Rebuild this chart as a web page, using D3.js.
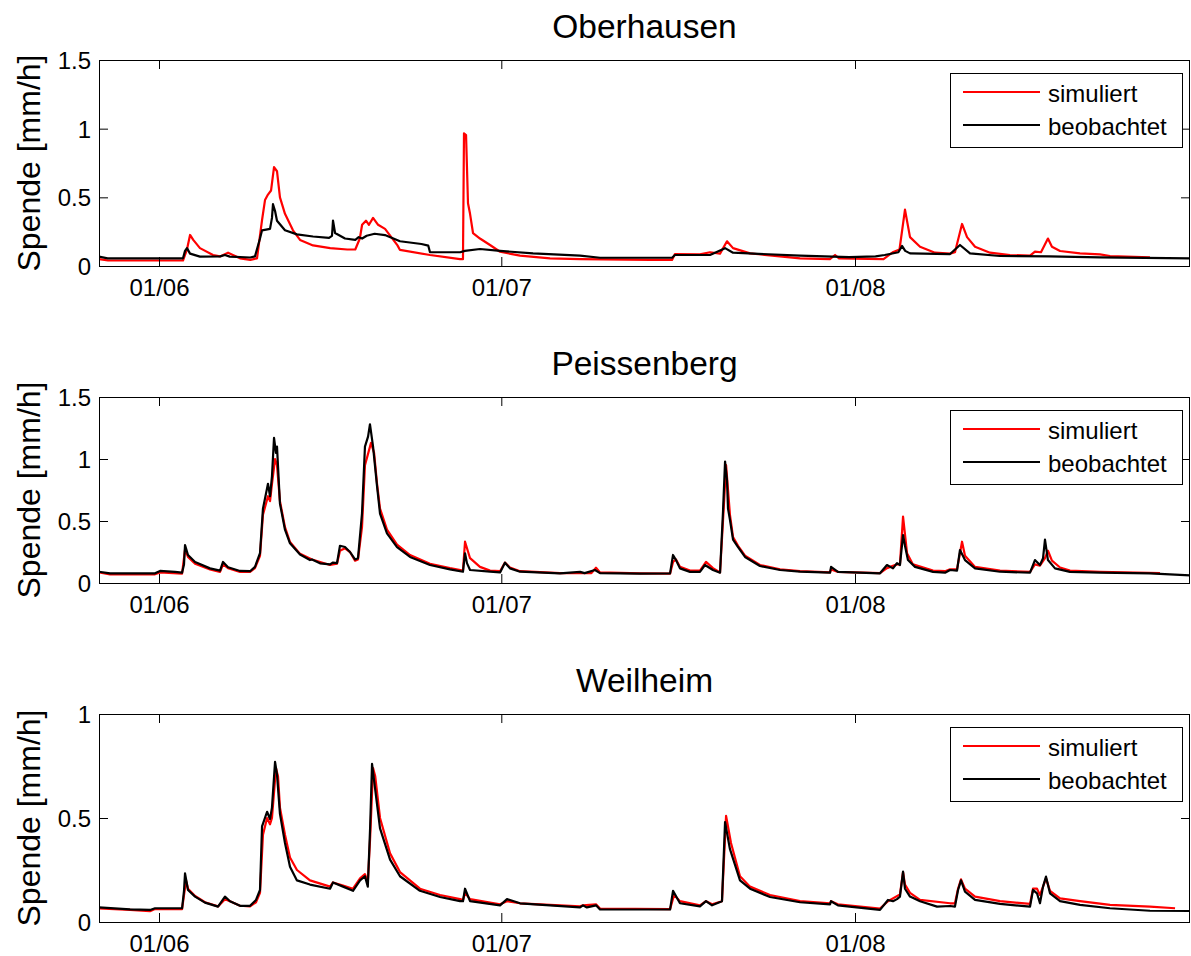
<!DOCTYPE html>
<html>
<head>
<meta charset="utf-8">
<script src="https://cdn.jsdelivr.net/npm/d3@7"></script>
<style>
  body { margin: 0; background: #fff; }
  svg { display: block; }
  text { font-family: "Liberation Sans", Arial, Helvetica, sans-serif; fill: #000; }
</style>
</head>
<body>
<svg id="chart" width="1191" height="956"></svg>
<script>
// Abflussspende [mm/h], Zeit in Tagen ab 01/06
const stations = ["Oberhausen", "Peissenberg", "Weilheim"];
const seriesNames = ["simuliert", "beobachtet"];
const yAxisTitle = "Spende [mm/h]";
const timeDomain = [-5.26, 90.36];
const monthTicks = [0, 30, 61];
const monthLabels = ["01/06", "01/07", "01/08"];
const yTicksOberhausen = [0, 0.5, 1, 1.5];
const yTicksPeissenberg = [0, 0.5, 1, 1.5];
const yTicksWeilheim = [0, 0.5, 1];

const simOberhausen = [[-5.26,0.05],[-4.47,0.04],[2.1,0.04],[2.45,0.12],[2.72,0.226],[3.0,0.19],[3.59,0.13],[4.73,0.08],[5.35,0.07],[6.05,0.097],[7.1,0.056],[8.0,0.045],[8.59,0.056],[9.03,0.335],[9.29,0.48],[9.55,0.52],[9.82,0.55],[10.08,0.72],[10.34,0.69],[10.6,0.5],[11.04,0.38],[11.74,0.26],[12.36,0.19],[13.5,0.15],[15.0,0.13],[16.5,0.12],[17.2,0.12],[17.6,0.2],[17.8,0.3],[18.14,0.33],[18.4,0.3],[18.76,0.35],[19.2,0.3],[19.81,0.27],[20.9,0.15],[21.12,0.117],[23.75,0.08],[26.38,0.05],[26.64,0.05],[26.73,0.966],[26.91,0.954],[27.08,0.457],[27.26,0.38],[27.52,0.24],[28.13,0.2],[29.01,0.153],[29.89,0.104],[31.64,0.075],[34.27,0.056],[36.9,0.05],[43.03,0.044],[44.96,0.044],[45.22,0.087],[47.41,0.085],[48.29,0.1],[49.17,0.09],[49.78,0.18],[50.31,0.13],[51.8,0.092],[56.18,0.056],[58.8,0.05],[59.25,0.08],[59.6,0.055],[63.5,0.05],[64.3,0.1],[64.9,0.12],[65.38,0.41],[65.82,0.21],[66.7,0.14],[68.01,0.097],[69.33,0.09],[69.76,0.1],[70.38,0.306],[70.82,0.21],[71.52,0.14],[72.83,0.097],[74.58,0.08],[76.34,0.075],[76.77,0.104],[77.3,0.1],[77.91,0.2],[78.26,0.14],[78.97,0.109],[80.72,0.092],[82.47,0.085],[83.35,0.073],[86.85,0.063]];
const obsOberhausen = [[-5.26,0.068],[-4.5,0.056],[2.1,0.056],[2.28,0.11],[2.45,0.13],[2.72,0.09],[3.59,0.068],[5.35,0.07],[5.78,0.08],[6.2,0.068],[8.0,0.062],[8.41,0.07],[8.85,0.2],[9.03,0.26],[9.73,0.27],[9.9,0.35],[9.99,0.45],[10.17,0.4],[10.34,0.33],[11.04,0.26],[12.09,0.23],[13.5,0.215],[14.9,0.205],[15.16,0.22],[15.25,0.33],[15.43,0.24],[16.3,0.2],[17.2,0.19],[17.5,0.21],[17.8,0.2],[18.2,0.22],[18.9,0.235],[19.8,0.225],[21.12,0.18],[23.0,0.16],[23.6,0.148],[23.75,0.1],[26.4,0.1],[26.8,0.11],[28.13,0.124],[29.89,0.11],[32.78,0.092],[36.9,0.075],[38.65,0.06],[44.96,0.06],[45.22,0.08],[48.29,0.08],[49.61,0.13],[50.31,0.097],[56.18,0.075],[60.5,0.065],[62.8,0.07],[63.6,0.08],[64.8,0.1],[65.12,0.146],[65.4,0.11],[65.82,0.092],[69.33,0.087],[70.2,0.153],[71.08,0.092],[73.71,0.073],[78.0,0.07],[82.47,0.063],[90.36,0.056]];

const simPeissenberg = [[-5.26,0.085],[-4.29,0.07],[-0.35,0.07],[0.09,0.085],[2.02,0.075],[2.28,0.27],[2.54,0.21],[3.16,0.155],[4.47,0.11],[5.35,0.09],[5.61,0.15],[6.05,0.12],[7.1,0.09],[7.98,0.09],[8.41,0.12],[8.85,0.22],[9.11,0.55],[9.55,0.7],[9.73,0.66],[9.9,0.8],[10.17,1.0],[10.34,0.95],[10.6,0.66],[11.04,0.45],[11.48,0.33],[12.36,0.235],[13.41,0.19],[14.99,0.145],[15.6,0.155],[15.86,0.26],[16.3,0.28],[16.74,0.25],[17.18,0.18],[17.44,0.19],[17.79,0.45],[18.05,0.95],[18.58,1.13],[18.85,1.05],[19.11,0.8],[19.37,0.6],[19.98,0.43],[20.86,0.31],[22.0,0.225],[23.75,0.155],[25.5,0.12],[26.64,0.1],[26.82,0.333],[27.26,0.2],[28.13,0.13],[29.01,0.1],[29.89,0.095],[30.32,0.165],[30.76,0.125],[31.64,0.095],[35.14,0.08],[37.9,0.08],[38.3,0.123],[38.65,0.085],[42.16,0.078],[44.79,0.075],[45.05,0.17],[45.31,0.19],[45.66,0.13],[46.54,0.1],[47.41,0.1],[47.94,0.17],[48.55,0.12],[49.17,0.085],[49.43,0.5],[49.7,0.95],[49.87,0.75],[50.04,0.55],[50.31,0.37],[50.75,0.3],[51.36,0.22],[52.67,0.145],[54.43,0.11],[56.18,0.095],[58.81,0.085],[58.9,0.11],[59.51,0.09],[63.19,0.08],[63.8,0.12],[64.68,0.15],[64.94,0.15],[65.21,0.535],[65.56,0.24],[66.08,0.15],[67.84,0.1],[68.89,0.095],[69.33,0.11],[69.94,0.11],[70.38,0.333],[70.64,0.22],[71.52,0.13],[73.71,0.1],[76.34,0.09],[76.77,0.15],[77.21,0.14],[77.65,0.2],[77.91,0.26],[78.26,0.18],[78.97,0.125],[79.84,0.1],[82.47,0.09],[87.73,0.08]];
const obsPeissenberg = [[-5.26,0.091],[-4.29,0.078],[-0.35,0.078],[0.09,0.097],[1.4,0.09],[2.02,0.083],[2.19,0.15],[2.28,0.306],[2.54,0.226],[3.16,0.17],[4.47,0.118],[5.35,0.1],[5.61,0.17],[6.05,0.127],[7.1,0.097],[7.98,0.095],[8.41,0.13],[8.85,0.24],[9.11,0.6],[9.55,0.8],[9.73,0.7],[9.9,0.86],[10.08,1.17],[10.25,1.05],[10.34,1.1],[10.6,0.64],[11.04,0.43],[11.48,0.32],[12.36,0.23],[13.23,0.185],[13.41,0.19],[14.11,0.159],[14.99,0.15],[15.25,0.165],[15.6,0.16],[15.86,0.3],[16.3,0.29],[16.74,0.25],[17.18,0.19],[17.44,0.2],[17.79,0.56],[18.05,1.1],[18.32,1.18],[18.49,1.28],[18.76,1.1],[19.11,0.78],[19.37,0.56],[19.98,0.4],[20.86,0.29],[22.0,0.21],[23.75,0.145],[25.5,0.11],[26.64,0.091],[26.82,0.24],[26.99,0.16],[27.26,0.105],[29.01,0.091],[29.89,0.085],[30.32,0.164],[30.76,0.118],[31.64,0.091],[35.14,0.078],[36.9,0.09],[37.3,0.08],[38.21,0.105],[38.65,0.08],[42.16,0.075],[44.79,0.078],[45.05,0.226],[45.31,0.185],[45.66,0.118],[46.54,0.09],[47.41,0.09],[47.85,0.145],[48.55,0.105],[49.17,0.083],[49.43,0.575],[49.61,0.98],[49.78,0.83],[49.87,0.6],[50.04,0.51],[50.31,0.35],[50.75,0.29],[51.36,0.21],[52.67,0.137],[54.43,0.105],[56.18,0.091],[58.81,0.083],[58.9,0.13],[59.51,0.09],[63.19,0.078],[63.8,0.145],[64.33,0.118],[64.68,0.16],[64.94,0.145],[65.21,0.387],[65.38,0.3],[65.64,0.185],[66.26,0.13],[67.84,0.09],[68.89,0.083],[69.33,0.105],[69.94,0.1],[70.2,0.266],[70.64,0.185],[71.52,0.118],[73.71,0.091],[76.34,0.083],[76.77,0.185],[77.21,0.145],[77.48,0.2],[77.65,0.35],[77.91,0.185],[78.53,0.118],[79.84,0.09],[82.47,0.083],[86.85,0.078],[90.36,0.062]];

const simWeilheim = [[-5.26,0.065],[-2.54,0.058],[-0.79,0.052],[-0.35,0.062],[2.02,0.062],[2.37,0.2],[2.54,0.16],[3.16,0.125],[4.03,0.095],[5.17,0.075],[5.78,0.11],[6.22,0.1],[7.1,0.078],[7.98,0.075],[8.5,0.095],[8.85,0.14],[9.11,0.42],[9.47,0.5],[9.73,0.47],[9.9,0.5],[10.25,0.74],[10.43,0.7],[10.6,0.55],[11.04,0.42],[11.48,0.31],[12.09,0.25],[13.23,0.2],[14.99,0.17],[15.25,0.19],[16.13,0.175],[17.0,0.16],[17.62,0.21],[18.05,0.23],[18.3,0.19],[18.5,0.4],[18.76,0.74],[18.95,0.7],[19.37,0.5],[20.25,0.33],[21.12,0.24],[22.87,0.16],[24.63,0.13],[26.38,0.11],[26.64,0.105],[26.82,0.14],[27.26,0.11],[29.89,0.085],[30.5,0.1],[31.64,0.09],[36.9,0.075],[37.16,0.08],[38.3,0.085],[38.65,0.065],[44.79,0.062],[45.14,0.13],[45.66,0.1],[47.41,0.08],[47.94,0.1],[48.47,0.085],[49.34,0.1],[49.7,0.51],[50.13,0.38],[50.92,0.22],[51.8,0.17],[53.55,0.13],[56.18,0.1],[58.81,0.09],[58.9,0.1],[59.5,0.085],[63.19,0.065],[63.89,0.1],[64.94,0.133],[65.21,0.24],[65.38,0.18],[65.82,0.14],[66.7,0.106],[69.33,0.09],[69.76,0.09],[70.03,0.16],[70.29,0.205],[70.64,0.16],[71.52,0.122],[73.71,0.1],[76.34,0.087],[76.6,0.16],[76.95,0.16],[77.21,0.13],[77.48,0.17],[77.74,0.21],[78.09,0.15],[78.97,0.114],[80.72,0.1],[83.35,0.082],[86.85,0.074],[89.05,0.066]];
const obsWeilheim = [[-5.26,0.07],[-2.54,0.061],[-0.79,0.058],[-0.35,0.066],[2.02,0.066],[2.19,0.15],[2.28,0.234],[2.54,0.154],[3.16,0.122],[4.03,0.093],[5.17,0.074],[5.78,0.122],[6.22,0.1],[7.1,0.078],[7.98,0.078],[8.5,0.106],[8.85,0.154],[9.03,0.46],[9.47,0.53],[9.73,0.495],[9.9,0.55],[10.17,0.77],[10.34,0.71],[10.6,0.52],[11.04,0.38],[11.48,0.266],[12.09,0.2],[13.23,0.18],[14.99,0.16],[15.25,0.19],[16.13,0.17],[17.0,0.15],[17.62,0.2],[18.05,0.22],[18.3,0.17],[18.5,0.45],[18.67,0.76],[18.85,0.68],[19.37,0.45],[20.25,0.3],[21.12,0.22],[22.87,0.15],[24.63,0.12],[26.38,0.1],[26.64,0.1],[26.82,0.16],[27.26,0.1],[29.89,0.08],[30.5,0.11],[31.64,0.09],[36.9,0.07],[37.16,0.08],[37.5,0.07],[38.3,0.08],[38.65,0.06],[44.79,0.06],[45.05,0.15],[45.66,0.09],[47.41,0.075],[47.94,0.1],[48.47,0.08],[49.34,0.1],[49.61,0.48],[50.04,0.35],[50.92,0.2],[51.8,0.16],[53.55,0.12],[56.18,0.095],[58.81,0.085],[58.9,0.1],[59.5,0.08],[63.19,0.058],[63.89,0.106],[64.33,0.1],[64.68,0.11],[64.94,0.122],[65.21,0.242],[65.38,0.16],[65.82,0.122],[66.7,0.1],[68.19,0.074],[69.33,0.077],[69.76,0.074],[70.03,0.154],[70.29,0.2],[70.64,0.146],[71.52,0.106],[73.71,0.087],[76.34,0.074],[76.6,0.154],[76.95,0.138],[77.21,0.09],[77.48,0.17],[77.74,0.218],[78.09,0.138],[78.97,0.1],[80.72,0.082],[83.35,0.066],[86.85,0.054],[90.36,0.053]];

// Panel layout
const panelLeft = 99, panelRight = 1190;
const panels = [
  { name: stations[0], sim: simOberhausen,  obs: obsOberhausen,  yMax: 1.5, ticks: yTicksOberhausen,  top: 60,  bottom: 266 },
  { name: stations[1], sim: simPeissenberg, obs: obsPeissenberg, yMax: 1.5, ticks: yTicksPeissenberg, top: 397, bottom: 583 },
  { name: stations[2], sim: simWeilheim,    obs: obsWeilheim,    yMax: 1.0, ticks: yTicksWeilheim,    top: 714, bottom: 922 }
];
const colors = { sim: "#ff0000", obs: "#000000" };
const tickLen = 9;

const svg = d3.select("#chart");
const x = d3.scaleLinear().domain(timeDomain).range([panelLeft, panelRight]);

panels.forEach((p, i) => {
  const y = d3.scaleLinear().domain([0, p.yMax]).range([p.bottom, p.top]);
  const g = svg.append("g");

  const clipId = "clip" + i;
  svg.append("clipPath").attr("id", clipId)
    .append("rect").attr("x", panelLeft).attr("y", p.top)
    .attr("width", panelRight - panelLeft).attr("height", p.bottom - p.top);

  const line = d3.line().x(d => x(d[0])).y(d => y(d[1]));
  const lines = g.append("g").attr("clip-path", `url(#${clipId})`);
  lines.append("path").datum(p.sim)
    .attr("fill", "none").attr("stroke", colors.sim).attr("stroke-width", 2.2)
    .attr("stroke-linejoin", "round").attr("d", line);
  lines.append("path").datum(p.obs)
    .attr("fill", "none").attr("stroke", colors.obs).attr("stroke-width", 2.2)
    .attr("stroke-linejoin", "round").attr("d", line);

  // axes with inward ticks on all four sides
  const fmtX = (d, k) => monthLabels[k];
  g.append("g").attr("transform", `translate(0,${p.bottom})`)
    .call(d3.axisBottom(x).tickValues(monthTicks).tickFormat(fmtX)
      .tickSizeInner(-tickLen).tickSizeOuter(0).tickPadding(13));
  g.append("g").attr("transform", `translate(0,${p.top})`)
    .call(d3.axisTop(x).tickValues(monthTicks).tickFormat("")
      .tickSizeInner(-tickLen).tickSizeOuter(0));
  const ay = g.append("g").attr("transform", `translate(${panelLeft},0)`)
    .call(d3.axisLeft(y).tickValues(p.ticks).tickFormat(d3.format(""))
      .tickSizeInner(-tickLen).tickSizeOuter(0).tickPadding(8));
  g.append("g").attr("transform", `translate(${panelRight},0)`)
    .call(d3.axisRight(y).tickValues(p.ticks).tickFormat("")
      .tickSizeInner(-tickLen).tickSizeOuter(0));
  g.selectAll(".domain").remove();
  g.selectAll(".tick line").attr("stroke", "#000").attr("stroke-width", 1);
  g.selectAll(".tick text").attr("font-size", 24).attr("fill", "#000")
    .style("font-family", '"Liberation Sans", Arial, sans-serif');
  ay.selectAll(".tick text").attr("dy", "0.36em");

  // frame
  g.append("rect")
    .attr("x", panelLeft + 0.5).attr("y", p.top + 0.5)
    .attr("width", panelRight - panelLeft - 1).attr("height", p.bottom - p.top)
    .attr("fill", "none").attr("stroke", "#000").attr("stroke-width", 1);

  // title
  g.append("text")
    .attr("x", (panelLeft + panelRight) / 2).attr("y", p.top - 22.5)
    .attr("text-anchor", "middle").attr("font-size", 33.5)
    .text(p.name);

  // y-axis title
  g.append("text")
    .attr("transform", `translate(40,${(p.top + p.bottom) / 2}) rotate(-90)`)
    .attr("text-anchor", "middle").attr("font-size", 32)
    .text(yAxisTitle);

  // legend
  const lg = g.append("g").attr("transform", `translate(950,${p.top + 13})`);
  lg.append("rect").attr("x", 0.5).attr("y", 0.5).attr("width", 232).attr("height", 74)
    .attr("fill", "#fff").attr("stroke", "#000").attr("stroke-width", 1);
  const entries = [
    { label: seriesNames[0], color: colors.sim, dy: 19 },
    { label: seriesNames[1], color: colors.obs, dy: 52 }
  ];
  entries.forEach(e => {
    lg.append("line").attr("x1", 13).attr("x2", 90)
      .attr("y1", e.dy).attr("y2", e.dy)
      .attr("stroke", e.color).attr("stroke-width", 2);
    lg.append("text").attr("x", 98).attr("y", e.dy + 10)
      .attr("font-size", 24).text(e.label);
  });
});
</script>
</body>
</html>
